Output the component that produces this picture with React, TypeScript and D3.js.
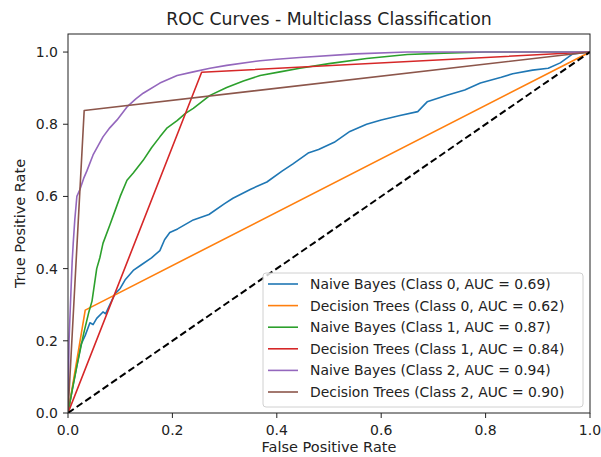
import React from "react";
import * as d3 from "d3";

type Pt = [number, number];

// ROC points (fpr, tpr)
const nbClass0: Pt[] = [
  [0, 0], [0.01, 0.08], [0.025, 0.19], [0.033, 0.215], [0.042, 0.25], [0.048, 0.245],
  [0.055, 0.262], [0.067, 0.28], [0.072, 0.275], [0.08, 0.3], [0.09, 0.33], [0.1, 0.345],
  [0.11, 0.37], [0.125, 0.395], [0.14, 0.41], [0.16, 0.43], [0.176, 0.45], [0.185, 0.48],
  [0.195, 0.5], [0.21, 0.51], [0.24, 0.535], [0.27, 0.55], [0.3, 0.58], [0.316, 0.595],
  [0.35, 0.62], [0.381, 0.64], [0.41, 0.67], [0.431, 0.69], [0.46, 0.72], [0.48, 0.73],
  [0.51, 0.75], [0.54, 0.78], [0.572, 0.8], [0.6, 0.812], [0.636, 0.824], [0.67, 0.835],
  [0.688, 0.862], [0.726, 0.88], [0.76, 0.895], [0.79, 0.914], [0.83, 0.93], [0.852, 0.94],
  [0.89, 0.95], [0.92, 0.955], [0.943, 0.97], [0.967, 0.995], [1, 1],
];
const dtClass0: Pt[] = [[0, 0], [0.033, 0.285], [1, 1]];
const nbClass1: Pt[] = [
  [0, 0], [0.005, 0.04], [0.017, 0.13], [0.03, 0.22], [0.04, 0.28], [0.046, 0.31],
  [0.055, 0.4], [0.061, 0.43], [0.067, 0.47], [0.08, 0.52], [0.09, 0.56], [0.1, 0.6],
  [0.113, 0.645], [0.125, 0.665], [0.144, 0.7], [0.16, 0.735], [0.176, 0.765], [0.19, 0.79],
  [0.209, 0.81], [0.225, 0.83], [0.24, 0.844], [0.272, 0.88], [0.304, 0.902], [0.336, 0.92],
  [0.368, 0.935], [0.406, 0.945], [0.444, 0.955], [0.5, 0.968], [0.572, 0.982], [0.65, 0.993],
  [0.72, 0.997], [0.8, 1], [1, 1],
];
const dtClass1: Pt[] = [[0, 0], [0.256, 0.944], [1, 1]];
const nbClass2: Pt[] = [
  [0, 0], [0.002, 0.2], [0.006, 0.35], [0.008, 0.42], [0.01, 0.47], [0.013, 0.535],
  [0.017, 0.6], [0.023, 0.62], [0.03, 0.65], [0.036, 0.67], [0.048, 0.715], [0.067, 0.765],
  [0.08, 0.79], [0.094, 0.812], [0.113, 0.848], [0.13, 0.87], [0.144, 0.886], [0.176, 0.914],
  [0.209, 0.935], [0.24, 0.945], [0.272, 0.955], [0.304, 0.963], [0.368, 0.976], [0.4, 0.98],
  [0.444, 0.985], [0.55, 0.995], [0.65, 1], [1, 1],
];
const dtClass2: Pt[] = [[0, 0], [0.031, 0.838], [1, 1]];

const seriesNames = [
  "Naive Bayes (Class 0, AUC = 0.69)",
  "Decision Trees (Class 0, AUC = 0.62)",
  "Naive Bayes (Class 1, AUC = 0.87)",
  "Decision Trees (Class 1, AUC = 0.84)",
  "Naive Bayes (Class 2, AUC = 0.94)",
  "Decision Trees (Class 2, AUC = 0.90)",
];
const seriesData = [nbClass0, dtClass0, nbClass1, dtClass1, nbClass2, dtClass2];
const colors = ["#1f77b4", "#ff7f0e", "#2ca02c", "#d62728", "#9467bd", "#8c564b"];
const ticks = [0, 0.2, 0.4, 0.6, 0.8, 1.0];
const chance: Pt[] = [[0, 0], [1, 1]];

const W = 601;
const H = 457;
const margin = { left: 68, right: 11, top: 34, bottom: 44 };
const font = "DejaVu Sans, sans-serif";

export default function App() {
  const x = d3.scaleLinear().domain([0, 1]).range([margin.left, W - margin.right]);
  const y = d3.scaleLinear().domain([0, 1.05]).range([H - margin.bottom, margin.top]);
  const line = d3.line<Pt>().x((d) => x(d[0])).y((d) => y(d[1]));

  const legX = 263;
  const legY = 273;
  const legW = 320;
  const rowH = 21.6;

  return (
    <svg
      width={W}
      height={H}
      style={{ position: "absolute", left: 0, top: 0, background: "#fff" }}
      fontFamily={font}
    >
      <defs>
        <clipPath id="plot">
          <rect x={x(0)} y={y(1.05)} width={x(1) - x(0)} height={y(0) - y(1.05)} />
        </clipPath>
      </defs>
      <rect width={W} height={H} fill="#fff" />

      <g clipPath="url(#plot)">
        {seriesData.map((s, i) => (
          <path key={i} d={line(s) || ""} fill="none" stroke={colors[i]} strokeWidth={1.6}
            strokeLinejoin="round" />
        ))}
        <path d={line(chance) || ""} fill="none" stroke="#000" strokeWidth={2}
          strokeDasharray="7,3.5" />
      </g>

      {/* frame */}
      <rect x={x(0)} y={y(1.05)} width={x(1) - x(0)} height={y(0) - y(1.05)}
        fill="none" stroke="#222" strokeWidth={1} />

      {/* x ticks */}
      {ticks.map((t) => (
        <g key={"x" + t}>
          <line x1={x(t)} x2={x(t)} y1={y(0)} y2={y(0) + 5} stroke="#222" />
          <text x={x(t)} y={y(0) + 22} textAnchor="middle" fontSize={14} fill="#222">
            {t.toFixed(1)}
          </text>
        </g>
      ))}
      {/* y ticks */}
      {ticks.map((t) => (
        <g key={"y" + t}>
          <line x1={x(0) - 5} x2={x(0)} y1={y(t)} y2={y(t)} stroke="#222" />
          <text x={x(0) - 10} y={y(t) + 5} textAnchor="end" fontSize={14} fill="#222">
            {t.toFixed(1)}
          </text>
        </g>
      ))}

      <text x={(x(0) + x(1)) / 2} y={25} textAnchor="middle" fontSize={17.3} fill="#222">
        ROC Curves - Multiclass Classification
      </text>
      <text x={(x(0) + x(1)) / 2} y={452} textAnchor="middle" fontSize={14.5} fill="#222">
        False Positive Rate
      </text>
      <text transform={`translate(25,${(y(0) + y(1.05)) / 2}) rotate(-90)`} textAnchor="middle"
        fontSize={14.5} fill="#222">
        True Positive Rate
      </text>

      {/* legend */}
      <rect x={legX} y={legY} width={legW} height={134} rx={3} fill="#fff" fillOpacity={0.8}
        stroke="#d0d0d0" />
      {seriesNames.map((n, i) => {
        const cy = legY + 11 + rowH * i;
        return (
          <g key={n}>
            <line x1={legX + 5} x2={legX + 35} y1={cy} y2={cy} stroke={colors[i]} strokeWidth={1.6} />
            <text x={legX + 47} y={cy + 5} fontSize={13.9} fill="#222">{n}</text>
          </g>
        );
      })}
    </svg>
  );
}
